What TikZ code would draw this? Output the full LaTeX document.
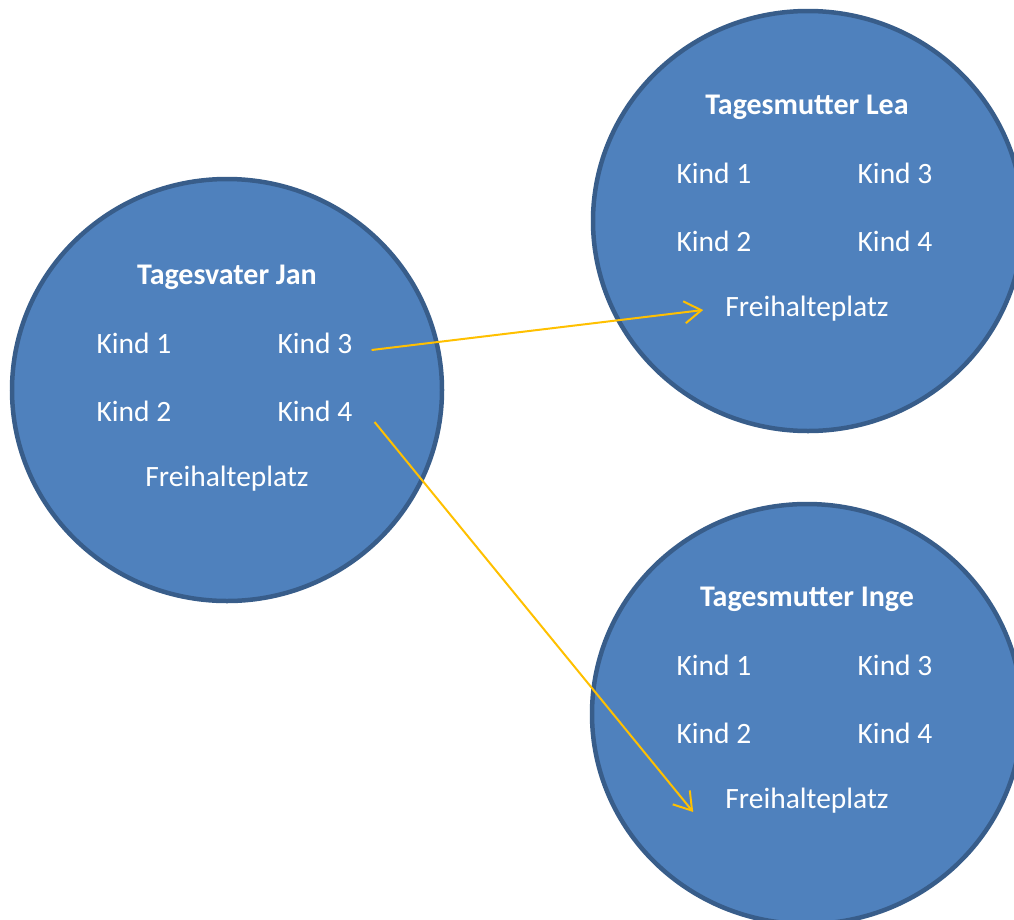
\documentclass[tikz,border=0pt]{standalone}
\usepackage{fontspec}
\setmainfont{Carlito}
\usetikzlibrary{arrows.meta}
\definecolor{cfill}{HTML}{4F81BD}
\definecolor{cline}{HTML}{385D8A}
\definecolor{carrow}{HTML}{FFC000}
\tikzset{
  circ/.style={draw=cline, fill=cfill, line width=4.5pt},
  txt/.style={text=white, font=\fontsize{29.5}{34}\selectfont, inner sep=0pt},
  ttl/.style={text=white, font=\fontsize{30}{34}\selectfont\bfseries, inner sep=0pt},
  arr/.style={draw=carrow, line width=2pt, -{Straight Barb[length=17pt,width=22pt,line width=2pt]}}
}
\begin{document}
\begin{tikzpicture}[x=1pt,y=-1pt]
\useasboundingbox (0,0) rectangle (1014,919);
\begin{scope}
\clip (0,0) rectangle (1014,919);
\draw[circ] (227,390) ellipse [x radius=215, y radius=211];
\draw[circ] (808,221) ellipse [x radius=215, y radius=210];
\draw[circ] (807,714) ellipse [x radius=215, y radius=210];
\end{scope}
% Jan
\node[ttl] (jt) at (227,277) {Tagesvater Jan};
\node[txt] (j1) at (134,343) {Kind 1};
\node[txt] (j3) at (315,343) {Kind 3};
\node[txt] (j2) at (134,411) {Kind 2};
\node[txt] (j4) at (315,411) {Kind 4};
\node[txt] (jf) at (227,479) {Freihalteplatz};
% Lea
\node[ttl] (lt) at (807,107) {Tagesmutter Lea};
\node[txt] (l1) at (714,173) {Kind 1};
\node[txt] (l3) at (895,173) {Kind 3};
\node[txt] (l2) at (714,241) {Kind 2};
\node[txt] (l4) at (895,241) {Kind 4};
\node[txt] (lf) at (807,309) {Freihalteplatz};
% Inge
\node[ttl] (it) at (807,599) {Tagesmutter Inge};
\node[txt] (i1) at (714,665) {Kind 1};
\node[txt] (i3) at (895,665) {Kind 3};
\node[txt] (i2) at (714,733) {Kind 2};
\node[txt] (i4) at (895,733) {Kind 4};
\node[txt] (if) at (807,801) {Freihalteplatz};
% arrows
\draw[arr] ([xshift=19pt,yshift=-7pt]j3.east) -- ([xshift=-22pt,yshift=-1pt]lf.west);
\draw[arr] ([xshift=22pt,yshift=-11pt]j4.east) -- ([xshift=-32pt,yshift=-11pt]if.west);
\end{tikzpicture}
\end{document}
